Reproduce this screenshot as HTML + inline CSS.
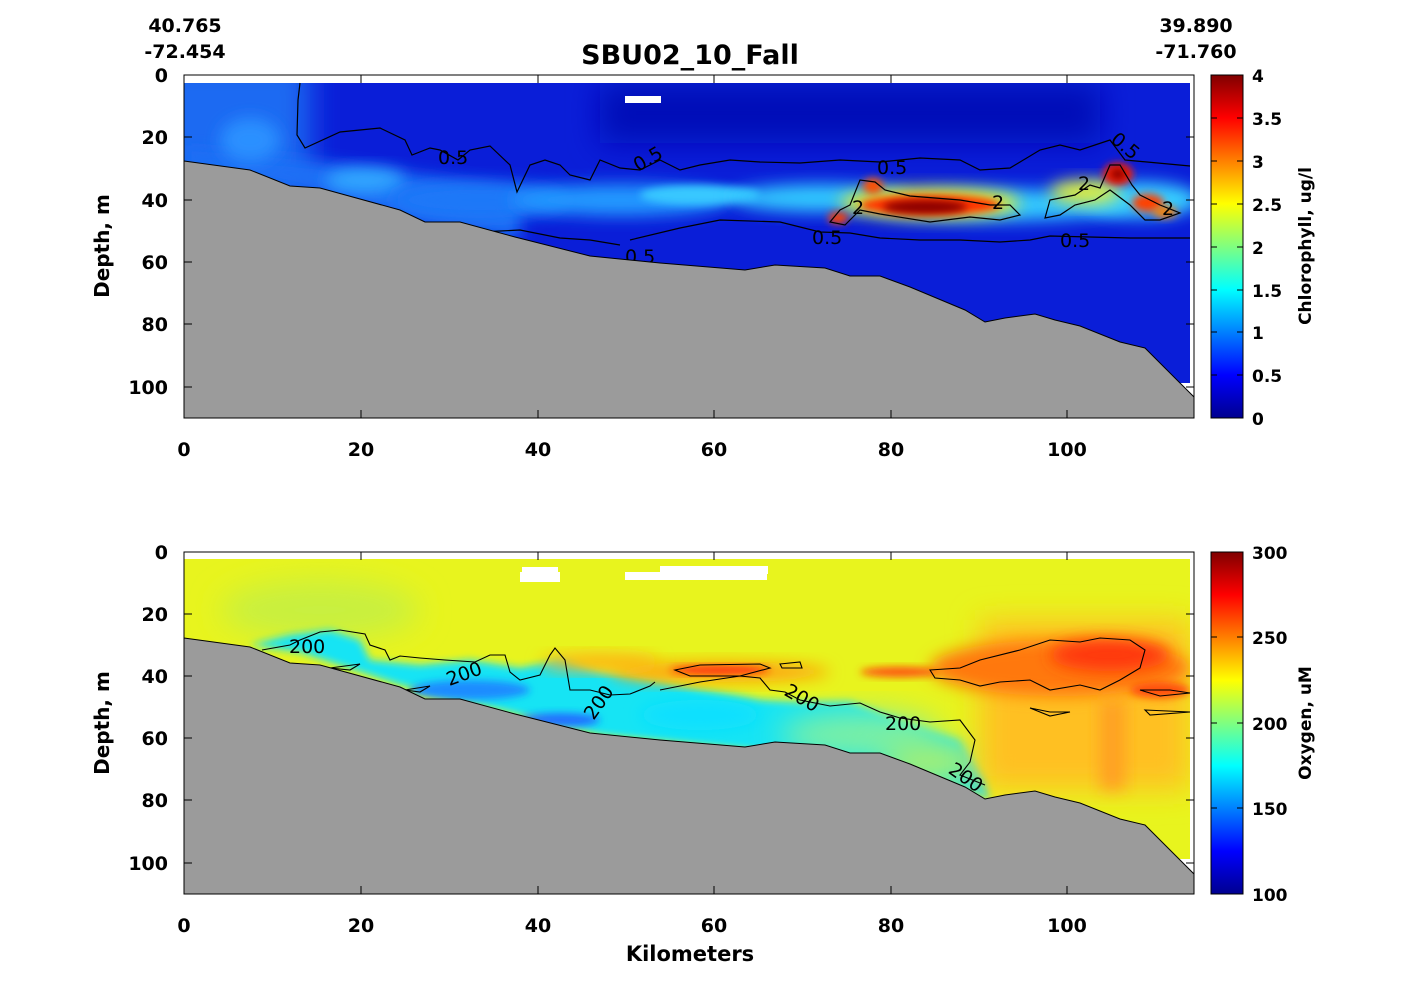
<!DOCTYPE html>
<html><head><meta charset="utf-8"><style>
html,body{margin:0;padding:0;background:#fff;}
svg{display:block;font-family:"DejaVu Sans","Liberation Sans",sans-serif;font-weight:bold;}
</style></head><body>
<svg width="1422" height="1005" viewBox="0 0 1422 1005" xmlns="http://www.w3.org/2000/svg">
<defs>
<linearGradient id="jet" x1="0" y1="1" x2="0" y2="0">
<stop offset="0" stop-color="#00008f"/><stop offset="0.125" stop-color="#0000ff"/>
<stop offset="0.375" stop-color="#00ffff"/><stop offset="0.625" stop-color="#ffff00"/>
<stop offset="0.875" stop-color="#ff0000"/><stop offset="1" stop-color="#800000"/>
</linearGradient>
<filter id="b8" x="-50%" y="-50%" width="200%" height="200%"><feGaussianBlur stdDeviation="8"/></filter>
<filter id="b4" x="-50%" y="-50%" width="200%" height="200%"><feGaussianBlur stdDeviation="4"/></filter>
<filter id="b15" x="-50%" y="-50%" width="200%" height="200%"><feGaussianBlur stdDeviation="15"/></filter>
<clipPath id="c1"><rect x="184" y="83" width="1006" height="300"/></clipPath>
<clipPath id="c2"><rect x="184" y="559" width="1006" height="300"/></clipPath>
</defs>

<!-- TOP PANEL -->
<g clip-path="url(#c1)">
<rect x="184" y="83" width="1006" height="300" fill="#0a1ed8"/>
<rect x="600" y="83" width="500" height="60" fill="#0410b8" filter="url(#b15)"/>
<rect x="150" y="60" width="160" height="140" fill="#1a6af2" filter="url(#b15)"/>
<polygon points="184,150 300,160 420,175 520,190 520,240 420,225 300,190 184,165" fill="#1a70f6" filter="url(#b8)"/>
<ellipse cx="250" cy="140" rx="30" ry="22" fill="#2c90ff" filter="url(#b8)"/>
<ellipse cx="365" cy="180" rx="40" ry="12" fill="#30a8ff" filter="url(#b8)"/>
<ellipse cx="480" cy="200" rx="90" ry="18" fill="#1c78f8" filter="url(#b8)"/>
<ellipse cx="620" cy="200" rx="110" ry="16" fill="#2498ff" filter="url(#b8)"/>
<ellipse cx="700" cy="195" rx="60" ry="10" fill="#38c8ff" filter="url(#b4)"/>
<ellipse cx="820" cy="198" rx="90" ry="14" fill="#30c8ff" filter="url(#b8)"/>
<ellipse cx="1000" cy="205" rx="130" ry="16" fill="#30c8ff" filter="url(#b8)"/>
<ellipse cx="1140" cy="200" rx="60" ry="18" fill="#38d0ff" filter="url(#b8)"/>
<ellipse cx="930" cy="203" rx="90" ry="15" fill="#f0f020" filter="url(#b8)"/>
<ellipse cx="930" cy="205" rx="70" ry="10" fill="#ff3000" filter="url(#b4)"/>
<ellipse cx="925" cy="207" rx="42" ry="7" fill="#8c0000" filter="url(#b4)"/>
<ellipse cx="873" cy="186" rx="10" ry="8" fill="#ff5000" filter="url(#b4)"/>
<ellipse cx="838" cy="218" rx="10" ry="6" fill="#ff4000" filter="url(#b4)"/>
<ellipse cx="1085" cy="192" rx="35" ry="12" fill="#e0f040" filter="url(#b8)"/>
<ellipse cx="1118" cy="174" rx="15" ry="11" fill="#ff2000" filter="url(#b4)"/>
<ellipse cx="1118" cy="174" rx="8" ry="6" fill="#900000" filter="url(#b4)"/>
<ellipse cx="1148" cy="203" rx="16" ry="9" fill="#ff4000" filter="url(#b4)"/>
<ellipse cx="1165" cy="212" rx="12" ry="6" fill="#ff8000" filter="url(#b4)"/>
</g>
<rect x="625" y="96" width="36" height="7" fill="#fff"/>
<g fill="none" stroke="#000" stroke-width="1.2">
<path d="M300 83 L298 100 L297 135 L305 148 L340 132 L380 128 L405 140 L412 155 L430 148 L440 150 L458 160 L470 150 L490 146 L510 165 L517 192 L530 165 L545 160 L560 165 L570 175 L590 180 L600 160 L620 168 L640 170 L660 160 L680 170 L700 165 L730 160 L760 162 L800 163 L840 160 L880 162 L920 158 L960 160 L980 170 L1010 168 L1040 150 L1060 145 L1080 150 L1110 140 L1125 160 L1190 166"/>
<path d="M184 205 L220 215 L260 222 L300 212 L340 230 L380 235 L410 238 L440 230 L480 232 L520 230 L560 238 L590 240 L620 245"/>
<path d="M630 240 L680 228 L720 220 L780 222 L820 232 L850 233 L880 238 L920 240 L960 240 L1000 242 L1030 240 L1050 236 L1090 237 L1130 238 L1190 238"/>
<path d="M830 222 L840 210 L850 205 L860 180 L875 182 L885 190 L910 196 L960 200 L990 205 L1010 205 L1020 215 L1000 220 L970 217 L930 222 L880 214 L860 210 L845 225 Z"/>
<path d="M1045 218 L1050 200 L1075 195 L1090 185 L1100 188 L1110 165 L1120 165 L1132 185 L1140 195 L1160 205 L1180 213 L1160 220 L1145 220 L1130 205 L1110 190 L1095 200 L1075 205 L1060 215 Z"/>
</g>
<g font-size="19" font-weight="normal" fill="#000">
<text x="438" y="164">0.5</text>
<text x="633" y="167" transform="rotate(-30 645 160)">0.5</text>
<text x="877" y="174">0.5</text>
<text x="812" y="244">0.5</text>
<text x="1060" y="247">0.5</text>
<text x="1110" y="150" transform="rotate(40 1122 145)">0.5</text>
<text x="852" y="214">2</text>
<text x="992" y="209">2</text>
<text x="1078" y="190">2</text>
<text x="1162" y="215">2</text>
<text x="625" y="263">0.5</text>
</g>
<rect x="1190" y="383" width="6" height="35" fill="#fff"/>
<polygon fill="#9b9b9b" stroke="#000" stroke-width="1" points="184,161 250,170 290,186 320,188 400,210 425,222 460,222 515,237 590,256 660,263 745,270 775,265 825,268 850,276 880,276 910,287 965,310 985,322 1005,318 1035,314 1055,320 1080,326 1120,342 1145,348 1194,397 1194,418 184,418"/>
<rect x="184" y="75" width="1010" height="343" fill="none" stroke="#000" stroke-width="1"/>

<!-- BOTTOM PANEL -->
<g clip-path="url(#c2)">
<rect x="184" y="559" width="1006" height="300" fill="#e8f41e"/>
<ellipse cx="320" cy="610" rx="100" ry="30" fill="#c8f040" filter="url(#b15)"/>
<polygon fill="#18e4f4" filter="url(#b4)" points="250,645 290,635 330,630 360,640 370,660 420,665 470,660 520,668 560,660 600,672 660,682 700,690 760,700 800,702 850,702 900,720 960,740 985,780 990,800 910,770 850,760 700,745 600,735 480,705 400,685 300,652"/>
<ellipse cx="470" cy="690" rx="60" ry="10" fill="#1c8cff" filter="url(#b4)"/>
<ellipse cx="560" cy="720" rx="40" ry="7" fill="#2070ff" filter="url(#b4)"/>
<ellipse cx="700" cy="715" rx="60" ry="15" fill="#10e0ff" filter="url(#b8)"/>
<ellipse cx="860" cy="735" rx="80" ry="22" fill="#80f0a0" filter="url(#b15)"/>
<ellipse cx="930" cy="762" rx="50" ry="22" fill="#a8f070" filter="url(#b15)"/>
<rect x="980" y="620" width="210" height="170" fill="#ffc020" filter="url(#b15)"/>
<ellipse cx="1060" cy="668" rx="130" ry="28" fill="#ff7810" filter="url(#b8)"/>
<ellipse cx="1110" cy="655" rx="60" ry="16" fill="#ff3810" filter="url(#b8)"/>
<ellipse cx="1160" cy="690" rx="30" ry="8" fill="#ff5010" filter="url(#b4)"/>
<rect x="1100" y="700" width="25" height="90" fill="#ffa020" filter="url(#b8)"/>
<ellipse cx="720" cy="672" rx="110" ry="10" fill="#ffa010" filter="url(#b8)"/>
<ellipse cx="600" cy="662" rx="60" ry="8" fill="#ffb018" filter="url(#b8)"/>
<ellipse cx="720" cy="670" rx="50" ry="4" fill="#ff2010" filter="url(#b4)"/>
<ellipse cx="900" cy="672" rx="40" ry="5" fill="#ff5010" filter="url(#b4)"/>
</g>
<rect x="520" y="572" width="40" height="10" fill="#fff"/>
<rect x="625" y="572" width="142" height="8" fill="#fff"/>
<rect x="660" y="566" width="108" height="8" fill="#fff"/>
<rect x="522" y="567" width="36" height="5" fill="#fff"/>
<g fill="none" stroke="#000" stroke-width="1.1">
<path d="M262 650 L290 645 L300 640 L320 632 L340 630 L365 634 L370 645 L385 650 L390 660 L400 656 L420 658 L445 660 L475 662 L490 655 L505 655 L510 672 L520 680 L540 675 L550 655 L555 648 L565 660 L570 690 L590 690 L610 695 L630 694 L650 686 L655 682"/>
<path d="M660 690 L700 682 L740 676 L760 678 L770 690 L785 692 L800 700 L830 706 L860 703 L880 712 L900 718 L930 722 L960 720 L975 740 L970 762 L960 775 L985 785"/>
<path d="M930 670 L960 668 L980 660 L1020 650 L1050 640 L1080 642 L1100 638 L1130 640 L1145 650 L1140 668 L1120 680 L1100 690 L1080 685 L1050 690 L1030 680 L1000 682 L980 686 L960 680 L935 678 Z"/>
<path d="M675 670 L700 665 L760 664 L770 668 L740 676 L690 676 Z"/>
<path d="M780 664 L800 662 L802 668 L782 668 Z"/>
<path d="M1140 690 L1170 690 L1190 693 L1160 696 Z"/>
<path d="M1145 710 L1190 712 L1150 715 Z"/>
<path d="M1030 708 L1050 712 L1070 712 L1050 716 Z"/>
<path d="M330 668 L360 664 L350 670 Z"/>
<path d="M405 690 L430 686 L420 692 Z"/>
</g>
<g font-size="19" font-weight="normal" fill="#000">
<text x="289" y="653">200</text>
<text x="445" y="678" transform="rotate(-20 470 670)">200</text>
<text x="575" y="715" transform="rotate(-55 590 700)">200</text>
<text x="785" y="703" transform="rotate(30 800 695)">200</text>
<text x="885" y="730">200</text>
<text x="948" y="780" transform="rotate(35 960 775)">200</text>
</g>
<rect x="1190" y="860" width="6" height="34" fill="#fff"/>
<polygon fill="#9b9b9b" stroke="#000" stroke-width="1" points="184,638 250,647 290,663 320,665 400,687 425,699 460,699 515,714 590,733 660,740 745,747 775,742 825,745 850,753 880,753 910,764 965,787 985,799 1005,795 1035,791 1055,797 1080,803 1120,819 1145,825 1194,874 1194,894 184,894"/>
<rect x="184" y="552" width="1010" height="342" fill="none" stroke="#000" stroke-width="1"/>

<g stroke="#000" stroke-width="1">
<path d="M361 75v8M361 418v-8M538 75v8M538 418v-8M714 75v8M714 418v-8M891 75v8M891 418v-8M1067 75v8M1067 418v-8"/>
<path d="M184 75h8M184 137h8M184 200h8M184 262h8M184 324h8M184 387h8M1194 137h-8M1194 200h-8M1194 262h-8M1194 324h-8M1194 387h-8"/>
<path d="M361 552v8M361 894v-8M538 552v8M538 894v-8M714 552v8M714 894v-8M891 552v8M891 894v-8M1067 552v8M1067 894v-8"/>
<path d="M184 614h8M184 676h8M184 738h8M184 800h8M184 863h8M1194 614h-8M1194 676h-8M1194 738h-8M1194 800h-8M1194 863h-8"/>
</g>
<g font-size="19" fill="#000" text-anchor="end">
<text x="168" y="82">0</text><text x="168" y="144">20</text><text x="168" y="207">40</text><text x="168" y="269">60</text><text x="168" y="331">80</text><text x="168" y="394">100</text>
<text x="168" y="559">0</text><text x="168" y="621">20</text><text x="168" y="683">40</text><text x="168" y="745">60</text><text x="168" y="807">80</text><text x="168" y="870">100</text>
</g>
<g font-size="19" fill="#000" text-anchor="middle">
<text x="184" y="456">0</text><text x="361" y="456">20</text><text x="538" y="456">40</text><text x="714" y="456">60</text><text x="891" y="456">80</text><text x="1067" y="456">100</text>
<text x="184" y="932">0</text><text x="361" y="932">20</text><text x="538" y="932">40</text><text x="714" y="932">60</text><text x="891" y="932">80</text><text x="1067" y="932">100</text>
<text x="690" y="961" font-size="21">Kilometers</text>
<text x="690" y="64" font-size="27">SBU02_10_Fall</text>
<text x="185" y="32">40.765</text><text x="185" y="58">-72.454</text>
<text x="1196" y="32">39.890</text><text x="1196" y="58">-71.760</text>
</g>
<text font-size="20" fill="#000" text-anchor="middle" transform="translate(109 246) rotate(-90)">Depth, m</text>
<text font-size="20" fill="#000" text-anchor="middle" transform="translate(109 723) rotate(-90)">Depth, m</text>

<rect x="1211" y="75" width="32" height="343" fill="url(#jet)" stroke="#000"/>
<rect x="1211" y="552" width="32" height="342" fill="url(#jet)" stroke="#000"/>
<g stroke="#000"><path d="M1211 118h6M1243 118h-6M1211 161h6M1243 161h-6M1211 204h6M1243 204h-6M1211 247h6M1243 247h-6M1211 290h6M1243 290h-6M1211 332h6M1243 332h-6M1211 375h6M1243 375h-6"/>
<path d="M1211 637h6M1243 637h-6M1211 723h6M1243 723h-6M1211 808h6M1243 808h-6"/></g>
<g font-size="17" fill="#000">
<text x="1252" y="82">4</text><text x="1252" y="125">3.5</text><text x="1252" y="168">3</text><text x="1252" y="211">2.5</text><text x="1252" y="254">2</text><text x="1252" y="297">1.5</text><text x="1252" y="339">1</text><text x="1252" y="382">0.5</text><text x="1252" y="425">0</text>
<text x="1252" y="559">300</text><text x="1252" y="644">250</text><text x="1252" y="730">200</text><text x="1252" y="815">150</text><text x="1252" y="901">100</text>
</g>
<text font-size="17" fill="#000" text-anchor="middle" transform="translate(1311 246) rotate(-90)">Chlorophyll, ug/l</text>
<text font-size="17" fill="#000" text-anchor="middle" transform="translate(1311 723) rotate(-90)">Oxygen, uM</text>
</svg>
</body></html>
